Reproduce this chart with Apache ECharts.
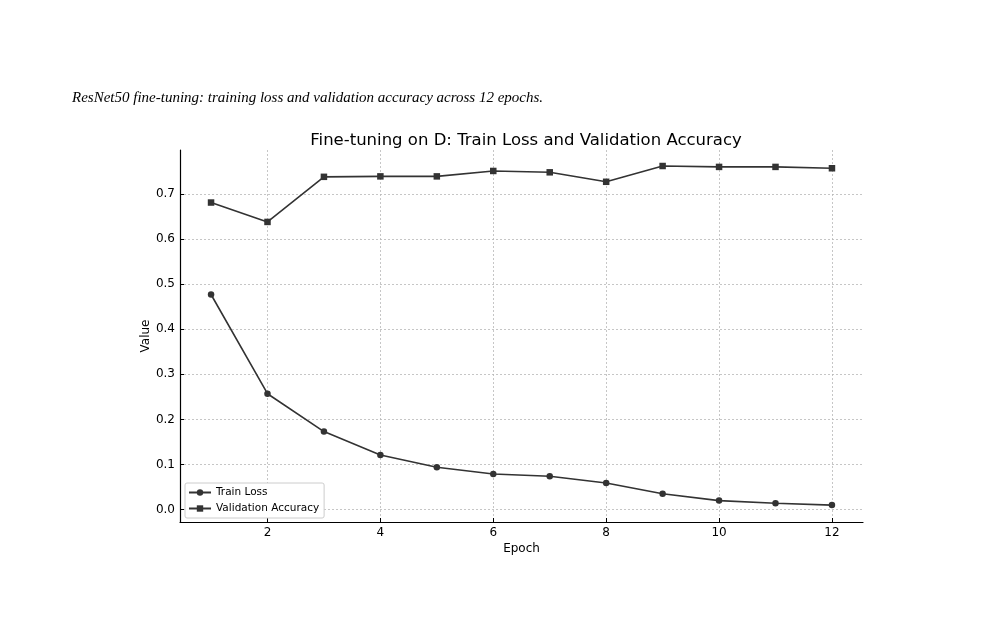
<!DOCTYPE html>
<html>
<head>
<meta charset="utf-8">
<script src="https://cdn.jsdelivr.net/npm/echarts@6/dist/echarts.min.js"></script>
<style>
html,body{margin:0;padding:0;background:#fff;}
#chart{width:985px;height:644px;}
</style>
</head>
<body>
<div id="chart"></div>
<script>
var epochs = [1,2,3,4,5,6,7,8,9,10,11,12];
var trainLoss = [0.477,0.257,0.173,0.121,0.094,0.079,0.074,0.059,0.035,0.020,0.014,0.010];
var valAcc = [0.681,0.638,0.738,0.739,0.739,0.751,0.748,0.727,0.762,0.760,0.760,0.757];
var xTicks = [2,4,6,8,10,12];
var yTicks = [0.0,0.1,0.2,0.3,0.4,0.5,0.6,0.7];
var captionText = 'ResNet50 fine-tuning: training loss and validation accuracy across 12 epochs.';
var titleText = 'Fine-tuning on D: Train Loss and Validation Accuracy';

var font = 'DejaVu Sans';
var chart = echarts.init(document.getElementById('chart'), null, {renderer:'canvas'});
function pairs(ys){ return epochs.map(function(e,i){ return [e, ys[i]]; }); }
var gridStyle = {show:true, lineStyle:{color:'#b8b8b8', type:[2,2], width:0.8}};
chart.setOption({
  backgroundColor:'#fff',
  animation:false,
  title:{text:titleText, left:521, top:127, textAlign:'center',
    textStyle:{fontFamily:font, fontSize:16.5, fontWeight:'normal', color:'#000'}},
  graphic:[{type:'text', left:72, top:91, style:{text:captionText, font:'italic 15px "Liberation Serif"', fill:'#000'}}],
  grid:{left:180, right:122, top:150, bottom:122, containLabel:false},
  legend:{orient:'vertical', left:185, top:483, itemGap:5, itemWidth:22, itemHeight:8,
    padding:[4,5,4,3], borderColor:'#cccccc', borderWidth:1, borderRadius:2, backgroundColor:'#fff',
    textStyle:{fontFamily:font, fontSize:10.5, color:'#000'},
    data:['Train Loss','Validation Accuracy']},
  xAxis:{type:'value', min:0.45, max:12.55, name:'Epoch', nameLocation:'middle', nameGap:21,
    nameMoveOverlap:false,
    nameTextStyle:{fontFamily:font, fontSize:12, color:'#000'},
    axisLine:{show:true, onZero:false, lineStyle:{color:'#000', width:1.2}},
    axisTick:{show:true, inside:true, length:4, customValues:xTicks, lineStyle:{color:'#000'}},
    axisLabel:{customValues:xTicks, fontFamily:font, fontSize:12, color:'#000', margin:5},
    splitLine:gridStyle},
  yAxis:{type:'value', min:-0.0275, max:0.7975, name:'Value', nameLocation:'middle', nameGap:28,
    nameMoveOverlap:false,
    nameTextStyle:{fontFamily:font, fontSize:12, color:'#000'},
    axisLine:{show:true, onZero:false, lineStyle:{color:'#000', width:1.2}},
    axisTick:{show:true, inside:true, length:4, customValues:yTicks, lineStyle:{color:'#000'}},
    axisLabel:{customValues:yTicks, fontFamily:font, fontSize:12, color:'#000', margin:5,
      formatter:function(v){return v.toFixed(1);}},
    splitLine:gridStyle},
  series:[
    {name:'Train Loss', type:'line', data:pairs(trainLoss), symbol:'circle', symbolSize:6.5,
      lineStyle:{color:'#333', width:1.6}, itemStyle:{color:'#333'}},
    {name:'Validation Accuracy', type:'line', data:pairs(valAcc), symbol:'rect', symbolSize:6.5,
      lineStyle:{color:'#333', width:1.6}, itemStyle:{color:'#333'}}
  ]
});
</script>
</body>
</html>
